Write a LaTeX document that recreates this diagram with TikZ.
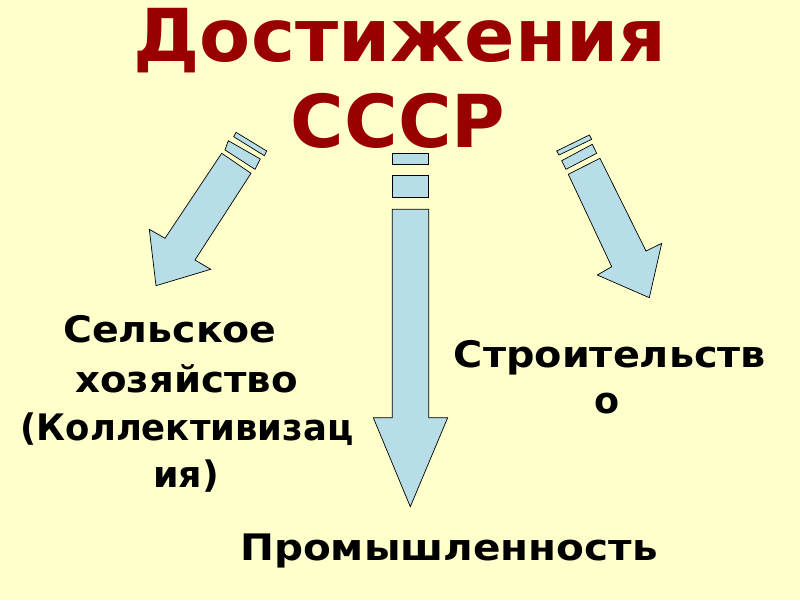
\documentclass[tikz,border=0pt]{standalone}
\usepackage{fontspec}
\setmainfont{DejaVu Sans}
\definecolor{bgyellow}{RGB}{255,255,204}
\definecolor{titlered}{RGB}{153,0,0}
\definecolor{arrowblue}{RGB}{183,221,230}
\begin{document}
\begin{tikzpicture}[x=1pt,y=-1pt,
  shapeblue/.style={fill=arrowblue,draw=black,line width=0.7pt,line join=miter},
  titletext/.style={text=titlered,font=\fontsize{73}{73}\selectfont\bfseries,anchor=base,inner sep=0pt},
  bodytext/.style={text=black,font=\fontsize{36.5}{36.5}\selectfont\bfseries,anchor=base,inner sep=0pt}]
\fill[bgyellow] (0,0) rectangle (800,600);
\useasboundingbox (0,0) rectangle (800,600);
% title
\node[titletext] (t1) at (400,61) {\scalebox{1.02}[1]{Достижения}};
\node[titletext] (t2) at (398,147) {СССР};
% centre arrow
\draw[shapeblue] (392.3,153.3) rectangle (428.7,164.3);
\draw[shapeblue] (392.3,175) rectangle (428.7,197.3);
\draw[shapeblue] (392.3,209.3) -- (428.7,209.3) -- (428.7,417.7) -- (447.7,417.7) -- (410.3,506.7) -- (373.3,417.7) -- (392.3,417.7) -- cycle;
% left arrow
\draw[shapeblue] (236,132.3) -- (266.7,151) -- (264.3,155.7) -- (233.7,136.7) -- cycle;
\draw[shapeblue] (228.3,140.7) -- (260.3,159) -- (255,169.3) -- (225,150) -- cycle;
\draw[shapeblue] (221.7,153.3) -- (251,173.3) -- (195,260) -- (210.7,269.3) -- (156,285.7) -- (149.3,229.3) -- (165,238.3) -- cycle;
% right arrow
\draw[shapeblue] (556.7,151) -- (589.3,135) -- (591.7,139.3) -- (559,155) -- cycle;
\draw[shapeblue] (561.7,160.7) -- (592.3,144.3) -- (596.7,153.3) -- (566,169.3) -- cycle;
\draw[shapeblue] (568.3,174.3) -- (600,158.3) -- (646,251) -- (661.7,243.3) -- (649.3,297.7) -- (597.3,275) -- (611.7,266.7) -- cycle;
% texts
\node[bodytext] (a1) at (170,342) {\scalebox{1.08}[1]{Сельское}};
\node[bodytext] (a2) at (186.5,392) {\scalebox{1.06}[1]{хозяйство}};
\node[bodytext] (a3) at (187,440) {\scalebox{0.97}[1]{(Коллективизац}};
\node[bodytext] (a4) at (186,487) {ия)};
\node[bodytext] (b1) at (610,367) {\scalebox{1.09}[1]{Строительств}};
\node[bodytext] (b2) at (607,413) {о};
\node[bodytext] (c1) at (449,560) {\scalebox{1.11}[1]{Промышленность}};
\end{tikzpicture}
\end{document}
